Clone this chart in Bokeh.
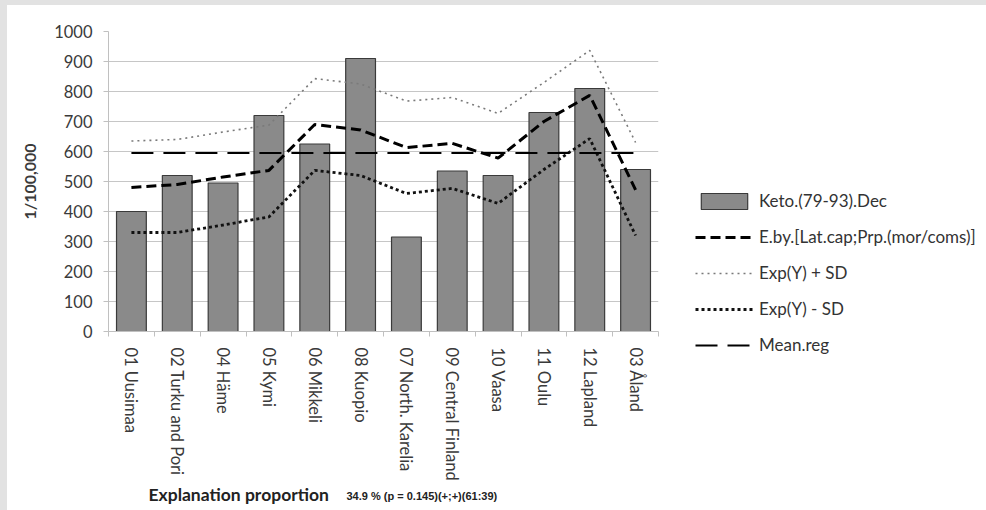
from bokeh.plotting import figure
from bokeh.layouts import column
from bokeh.models import Range1d, FixedTicker, Legend, LegendItem, ColumnDataSource, Label
from bokeh.embed import file_html
from bokeh.resources import INLINE

# ---- data ----
categories = ["01 Uusimaa", "02 Turku and Pori", "04 Häme", "05 Kymi", "06 Mikkeli",
              "08 Kuopio", "07 North. Karelia", "09 Central Finland", "10 Vaasa",
              "11 Oulu", "12 Lapland", "03 Åland"]
keto = [400, 520, 495, 720, 625, 910, 315, 535, 520, 730, 810, 540]
e_by = [480, 490, 515, 537, 690, 672, 613, 627, 578, 700, 787, 472]
exp_plus_sd = [635, 640, 665, 688, 843, 825, 768, 780, 727, 830, 937, 630]
exp_minus_sd = [330, 330, 355, 382, 537, 520, 460, 477, 427, 540, 643, 320]
mean_reg = [595] * 12
y_ticks = list(range(0, 1001, 100))
series_names = ["Keto.(79-93).Dec", "E.by.[Lat.cap;Prp.(mor/coms)]", "Exp(Y) + SD",
                "Exp(Y) - SD", "Mean.reg"]
caption_main = "Explanation proportion"
caption_stats = "34.9 %  (p = 0.145)(+;+)(61:39)"

xs = [i + 0.5 for i in range(len(categories))]
src = ColumnDataSource(dict(x=xs, cat=categories, keto=keto, eby=e_by,
                            ep=exp_plus_sd, em=exp_minus_sd, mr=mean_reg))

# ---------------- main chart ----------------
p = figure(frame_width=550, frame_height=300,
           x_range=Range1d(0, len(categories)), y_range=Range1d(0, 1000),
           output_backend="svg", toolbar_location=None,
           min_border_left=101, min_border_right=0, min_border_top=26, min_border_bottom=150)
p.outline_line_color = None
p.background_fill_color = "white"
p.border_fill_color = "white"

r_bar = p.vbar(x="x", top="keto", width=0.65, source=src, fill_color="#8a8a8a",
               line_color="#3a3a3a", line_width=1.2)
r_eby = p.line("x", "eby", source=src, line_color="black", line_width=3, line_dash="10 5")
r_epl = p.line("x", "ep", source=src, line_color="#7a7a7a", line_width=1.6, line_dash="2 4")
r_emi = p.line("x", "em", source=src, line_color="#111111", line_width=2.8, line_dash="3 3")
r_mrg = p.line("x", "mr", source=src, line_color="black", line_width=2.2, line_dash="22 10")

p.xgrid.visible = False
p.ygrid.grid_line_color = "#c6c6c6"
p.ygrid.grid_line_width = 1.2

p.yaxis.ticker = FixedTicker(ticks=y_ticks)
p.yaxis.axis_line_color = "#c0c0c0"
p.yaxis.major_tick_line_color = "#c0c0c0"
p.yaxis.major_tick_out = 5
p.yaxis.major_tick_in = 0
p.yaxis.minor_tick_line_color = None
p.yaxis.major_label_standoff = 11
p.yaxis.major_label_text_font = "Lato"
p.yaxis.major_label_text_font_size = "16.5px"
p.yaxis.major_label_text_color = "#3a3a3a"
p.yaxis.axis_label = "1/100,000"
p.yaxis.axis_label_text_font = "Lato"
p.yaxis.axis_label_text_font_style = "bold"
p.yaxis.axis_label_text_font_size = "16px"
p.yaxis.axis_label_text_color = "#3a3a3a"
p.yaxis.axis_label_standoff = 12

p.xaxis.ticker = FixedTicker(ticks=xs, minor_ticks=list(range(len(categories) + 1)))
p.xaxis.major_label_overrides = {x: c for x, c in zip(xs, categories)}
p.xaxis.major_label_orientation = "vertical"
p.xaxis.axis_line_color = "#c0c0c0"
p.xaxis.major_tick_line_color = None
p.xaxis.major_tick_out = 0
p.xaxis.major_tick_in = 0
p.xaxis.minor_tick_line_color = "#c0c0c0"
p.xaxis.minor_tick_out = 5
p.xaxis.minor_tick_in = 0
p.xaxis.major_label_standoff = 11
p.xaxis.major_label_text_font = "Lato"
p.xaxis.major_label_text_font_size = "16.5px"
p.xaxis.major_label_text_color = "#3a3a3a"

# legend in the right side panel (side panels are not clipped to the frame)
legend = Legend(items=[LegendItem(label=n, renderers=[r])
                       for n, r in zip(series_names, [r_bar, r_eby, r_epl, r_emi, r_mrg])],
                location=(37, -24))
legend.background_fill_alpha = 0
legend.border_line_color = None
legend.padding = 0
legend.margin = 0
legend.spacing = 15
legend.glyph_width = 58
legend.glyph_height = 20
legend.label_height = 20
legend.label_standoff = 6
legend.label_text_font = "Lato"
legend.label_text_font_size = "17px"
legend.label_text_color = "#333333"
p.add_layout(legend, "right")

# ---------------- caption strip (frame is aligned with the chart frame) ----------------
cap = figure(width=2000, height=29, x_range=Range1d(0, 1), y_range=Range1d(0, 1),
             x_axis_type=None, y_axis_type=None, output_backend="svg", toolbar_location=None,
             min_border_left=0, min_border_right=0, min_border_top=0, min_border_bottom=0)
cap.outline_line_color = None
cap.grid.visible = False
cap.background_fill_color = "white"
cap.border_fill_color = "white"
cap.add_layout(Label(x=40, y=18, x_units="screen", y_units="screen", text=caption_main,
                     text_font="Lato", text_font_style="bold", text_font_size="17.5px",
                     text_baseline="middle", text_color="#222222"))
cap.add_layout(Label(x=238, y=17, x_units="screen", y_units="screen", text=caption_stats,
                     text_font="Liberation Sans", text_font_style="bold", text_font_size="11px",
                     text_baseline="middle", text_color="#222222"))

layout = column(p, cap, spacing=0)

template = """
{% block postamble %}
<style>
html, body { overflow: hidden !important; }
html { background: linear-gradient(#e2e2e2, #e2e2e2) 0 0 / 100% 5px no-repeat,
                   linear-gradient(#e2e2e2, #e2e2e2) 0 0 / 7px 100% no-repeat, #ffffff !important; }
body { background: transparent !important; padding: 5px 0 0 7px !important; }
</style>
{% endblock %}
"""

open("out.html", "w").write(file_html(layout, INLINE, title="chart", template=template))
